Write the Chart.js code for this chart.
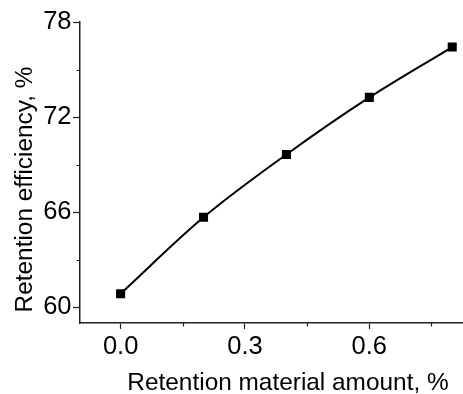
<!DOCTYPE html>
<html>
<head>
<meta charset="utf-8">
<script src="https://cdn.jsdelivr.net/npm/chart.js@4.4.1/dist/chart.umd.min.js"></script>
<style>
html,body{margin:0;padding:0;background:#fff;}
canvas{display:block;}
</style>
</head>
<body>
<canvas id="c" width="463" height="394"></canvas>
<script>
// Data
const amounts = [0, 0.2, 0.4, 0.6, 0.8];
const efficiency = [60.85, 65.67, 69.64, 73.24, 76.42];
const xMajorTicks = [0, 0.3, 0.6];
const xMinorTicks = [0.15, 0.45, 0.75];
const yMajorTicks = [60, 66, 72, 78];
const yMinorTicks = [63, 69, 75];
const xTitle = 'Retention material amount, %';
const yTitle = 'Retention efficiency, %';

const FONT = '"Liberation Sans", Arial, sans-serif';
const AXIS_COLOR = '#222';

const titlesAndMinor = {
  id: 'titlesAndMinor',
  afterDraw(chart) {
    const ctx = chart.ctx;
    const xs = chart.scales.x, ys = chart.scales.y;
    ctx.save();
    ctx.strokeStyle = AXIS_COLOR;
    ctx.lineWidth = 1.2;
    ctx.beginPath();
    xMinorTicks.forEach(v => {
      const px = Math.round(xs.getPixelForValue(v)) + 0.5;
      ctx.moveTo(px, xs.top); ctx.lineTo(px, xs.top + 3.5);
    });
    yMinorTicks.forEach(v => {
      const py = Math.round(ys.getPixelForValue(v)) + 0.5;
      ctx.moveTo(ys.right, py); ctx.lineTo(ys.right - 3.5, py);
    });
    ctx.stroke();
    ctx.fillStyle = '#000';
    ctx.font = '24.4px ' + FONT;
    ctx.textAlign = 'center';
    ctx.textBaseline = 'alphabetic';
    ctx.fillText(xTitle, 288, 390);
    ctx.translate(32, 189.5);
    ctx.rotate(-Math.PI / 2);
    ctx.fillText(yTitle, 0, 0);
    ctx.restore();
  }
};

new Chart(document.getElementById('c'), {
  type: 'scatter',
  data: {
    datasets: [{
      data: amounts.map((x, i) => ({ x: x, y: efficiency[i] })),
      showLine: true,
      borderColor: '#000',
      backgroundColor: '#000',
      borderWidth: 2,
      cubicInterpolationMode: 'monotone',
      pointStyle: 'rect',
      pointRadius: 5,
      pointHoverRadius: 5,
      clip: false
    }]
  },
  options: {
    responsive: false,
    animation: false,
    devicePixelRatio: 1,
    layout: { autoPadding: false, padding: { top: 22, right: 0, left: 0, bottom: 0 } },
    plugins: { legend: { display: false }, tooltip: { enabled: false } },
    scales: {
      x: {
        type: 'linear',
        min: -0.098,
        max: 0.826,
        afterBuildTicks: s => { s.ticks = xMajorTicks.map(v => ({ value: v })); },
        afterFit: s => { s.height = 71; },
        border: { display: true, color: AXIS_COLOR, width: 1.5 },
        grid: { display: true, drawOnChartArea: false, drawTicks: true, tickLength: 6, tickColor: AXIS_COLOR, tickWidth: 1.2 },
        ticks: { color: '#000', font: { family: FONT, size: 25.5 }, padding: 3, maxRotation: 0,
          callback: v => Number(v).toFixed(1) }
      },
      y: {
        type: 'linear',
        min: 59,
        max: 78,
        afterBuildTicks: s => { s.ticks = yMajorTicks.map(v => ({ value: v })); },
        afterFit: s => { s.width = 80; },
        border: { display: true, color: AXIS_COLOR, width: 1.5 },
        grid: { display: true, drawOnChartArea: false, drawTicks: true, tickLength: 7, tickColor: AXIS_COLOR, tickWidth: 1.2 },
        ticks: { color: '#000', font: { family: FONT, size: 25.5 }, padding: 1.5,
          callback: v => String(v) }
      }
    }
  },
  plugins: [titlesAndMinor]
});
</script>
</body>
</html>
